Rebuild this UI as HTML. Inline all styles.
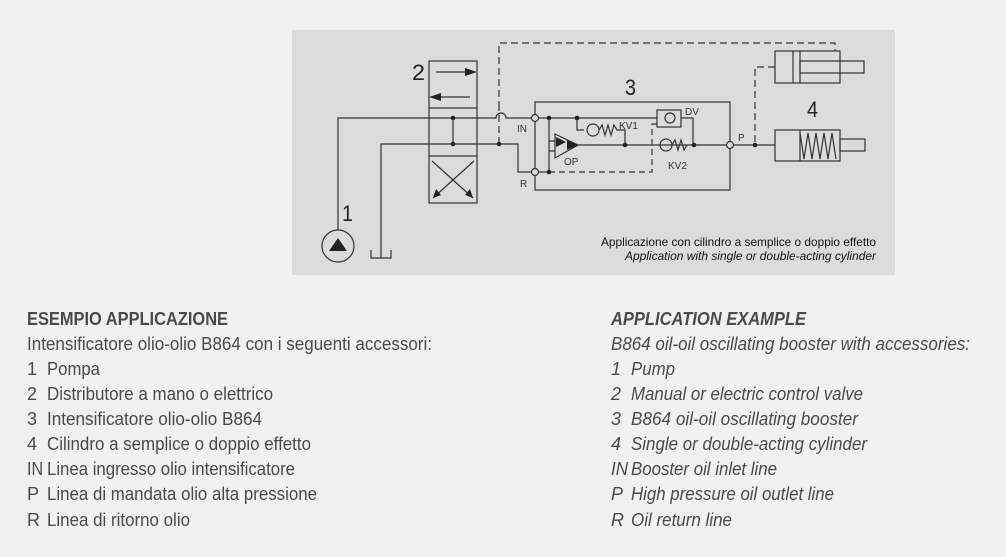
<!DOCTYPE html>
<html><head><meta charset="utf-8"><style>
html,body{margin:0;padding:0;background:#f2f1f1;}
svg{display:block;font-family:"Liberation Sans",sans-serif;}
.t{font-size:18px;fill:#4a4a4a;}
.i{font-style:italic;}
</style></head><body>
<svg width="1006" height="557" viewBox="0 0 1006 557">
<rect x="292" y="30" width="603" height="245" fill="#dcdcdc"/>
<g stroke="#333" stroke-width="1.2" fill="none">
<!-- valve 2 -->
<rect x="429" y="61" width="48" height="142"/>
<line x1="429" y1="108" x2="477" y2="108"/>
<line x1="429" y1="156" x2="477" y2="156"/>
<line x1="436" y1="72" x2="465" y2="72"/>
<line x1="440" y1="97" x2="470" y2="97"/>
<line x1="433" y1="198" x2="474" y2="161"/>
<line x1="473" y1="198" x2="432" y2="161"/>
<!-- IN / R lines -->
<path d="M338 230 V118 H496 A5 5 0 0 1 506 118 H535"/>
<path d="M381 258 V144 H518 V172 H535"/>
<line x1="453" y1="118" x2="453" y2="144"/>
<path d="M371 250 V258 H391 V250"/>
<circle cx="338" cy="246" r="16"/>
<!-- dashed pilot -->
<path d="M499 144 V108 M499 108 V43 H835 V51" stroke-dasharray="7,4"/>
<path d="M775 67 H755 V145" stroke-dasharray="7,4"/>
<!-- box 3 -->
<rect x="535" y="102" width="195" height="88"/>
<line x1="538" y1="118" x2="657" y2="118"/>
<rect x="657" y="110" width="24" height="17"/>
<path d="M681 118 H693 V145"/>
<line x1="538" y1="172" x2="549" y2="172"/>
<line x1="549" y1="118" x2="549" y2="172"/>
<path d="M549 141 H555 M549 151 H555"/>
<polygon points="555,134 578,145 555,158"/>
<line x1="578" y1="145" x2="727" y2="145"/>
<path d="M577 118 V130 H584"/>
<circle cx="593" cy="130" r="6"/>
<path d="M599 130 l3 -5 l3 10 l3 -10 l3 10 l3 -10 l3 5 H625 V145"/>
<circle cx="666" cy="145" r="6"/>
<path d="M672 145 l3 -5 l3 10 l3 -10 l3 10 l3 -5"/>
<path d="M549 172 H652 V124 H657" stroke-dasharray="6,4"/>
<line x1="733" y1="145" x2="775" y2="145"/>
<!-- cylinders -->
<rect x="775" y="51" width="65" height="32"/>
<line x1="793" y1="51" x2="793" y2="83"/><line x1="800" y1="51" x2="800" y2="83"/>
<rect x="800" y="61" width="64" height="12"/>
<rect x="775" y="130" width="65" height="31"/>
<rect x="840" y="139" width="25" height="12"/>
<line x1="800" y1="130" x2="800" y2="161"/>
<path d="M800 133 l4 26 l4 -26 l4 26 l4 -26 l4 26 l4 -26 l4 26 l4 -26 l4 26"/>
</g>
<g fill="#222">
<path d="M465 68 L477 72 L465 76Z"/><path d="M441 93 L429 97 L441 101Z"/>
<path d="M433 198 l3 -9 l5 6Z"/><path d="M473 198 l-8 -3 l5 -6Z"/>
<path d="M338 238 L347 251 L329 251Z"/>
<path d="M556 137 L566 142 L556 147Z"/><path d="M567 140 L578 145 L567 150Z"/>
<circle cx="453" cy="118" r="2.3"/><circle cx="453" cy="144" r="2.3"/><circle cx="499" cy="144" r="2.3"/>
<circle cx="549" cy="118" r="2.3"/><circle cx="577" cy="118" r="2.3"/><circle cx="549" cy="172" r="2.3"/>
<circle cx="625" cy="145" r="2.3"/><circle cx="694" cy="145" r="2.3"/><circle cx="755" cy="145" r="2.3"/>
</g>
<g fill="#dcdcdc" stroke="#333" stroke-width="1.2">
<circle cx="535" cy="118" r="3.5"/><circle cx="535" cy="172" r="3.5"/><circle cx="730" cy="145" r="3.5"/>
<circle cx="670" cy="118" r="5"/>
</g>
<g fill="#222" font-size="22">
<text x="412" y="80" textLength="13" lengthAdjust="spacingAndGlyphs">2</text>
<text x="342" y="221" textLength="11" lengthAdjust="spacingAndGlyphs">1</text>
<text x="625" y="95" textLength="11" lengthAdjust="spacingAndGlyphs">3</text>
<text x="807" y="117" textLength="11" lengthAdjust="spacingAndGlyphs">4</text>
</g>
<g fill="#333" font-size="10">
<text x="517" y="132">IN</text><text x="520" y="187">R</text>
<text x="564" y="165">OP</text><text x="619" y="129">KV1</text>
<text x="668" y="169">KV2</text><text x="685" y="115">DV</text><text x="738" y="141">P</text>
</g>
<g fill="#111" font-size="12">
<text x="876" y="246" text-anchor="end" textLength="275" lengthAdjust="spacingAndGlyphs">Applicazione con cilindro a semplice o doppio effetto</text>
<text x="876" y="260" text-anchor="end" class="i" textLength="251" lengthAdjust="spacingAndGlyphs">Application with single or double-acting cylinder</text>
</g>
<g class="t" style="white-space:pre">
<text x="27" y="325" font-weight="bold" textLength="201" lengthAdjust="spacingAndGlyphs">ESEMPIO APPLICAZIONE</text>
<text x="27" y="350" textLength="405" lengthAdjust="spacingAndGlyphs">Intensificatore olio-olio B864 con i seguenti accessori:</text>
<text x="27" y="375">1</text><text x="47" y="375" textLength="53" lengthAdjust="spacingAndGlyphs">Pompa</text>
<text x="27" y="400">2</text><text x="47" y="400" textLength="226" lengthAdjust="spacingAndGlyphs">Distributore a mano o elettrico</text>
<text x="27" y="425">3</text><text x="47" y="425" textLength="215" lengthAdjust="spacingAndGlyphs">Intensificatore olio-olio B864</text>
<text x="27" y="450">4</text><text x="47" y="450" textLength="264" lengthAdjust="spacingAndGlyphs">Cilindro a semplice o doppio effetto</text>
<text x="27" y="475" textLength="16" lengthAdjust="spacingAndGlyphs">IN</text><text x="47" y="475" textLength="248" lengthAdjust="spacingAndGlyphs">Linea ingresso olio intensificatore</text>
<text x="27" y="500">P</text><text x="47" y="500" textLength="270" lengthAdjust="spacingAndGlyphs">Linea di mandata olio alta pressione</text>
<text x="27" y="526">R</text><text x="47" y="526" textLength="143" lengthAdjust="spacingAndGlyphs">Linea di ritorno olio</text>
</g>
<g class="t i">
<text x="611" y="325" font-weight="bold" textLength="195" lengthAdjust="spacingAndGlyphs">APPLICATION EXAMPLE</text>
<text x="611" y="350" textLength="359" lengthAdjust="spacingAndGlyphs">B864 oil-oil oscillating booster with accessories:</text>
<text x="611" y="375">1</text><text x="631" y="375" textLength="44" lengthAdjust="spacingAndGlyphs">Pump</text>
<text x="611" y="400">2</text><text x="631" y="400" textLength="232" lengthAdjust="spacingAndGlyphs">Manual or electric control valve</text>
<text x="611" y="425">3</text><text x="631" y="425" textLength="227" lengthAdjust="spacingAndGlyphs">B864 oil-oil oscillating booster</text>
<text x="611" y="450">4</text><text x="631" y="450" textLength="236" lengthAdjust="spacingAndGlyphs">Single or double-acting cylinder</text>
<text x="611" y="475" textLength="17" lengthAdjust="spacingAndGlyphs">IN</text><text x="631" y="475" textLength="146" lengthAdjust="spacingAndGlyphs">Booster oil inlet line</text>
<text x="611" y="500">P</text><text x="631" y="500" textLength="203" lengthAdjust="spacingAndGlyphs">High pressure oil outlet line</text>
<text x="611" y="526">R</text><text x="631" y="526" textLength="101" lengthAdjust="spacingAndGlyphs">Oil return line</text>
</g>
</svg>
</body></html>
